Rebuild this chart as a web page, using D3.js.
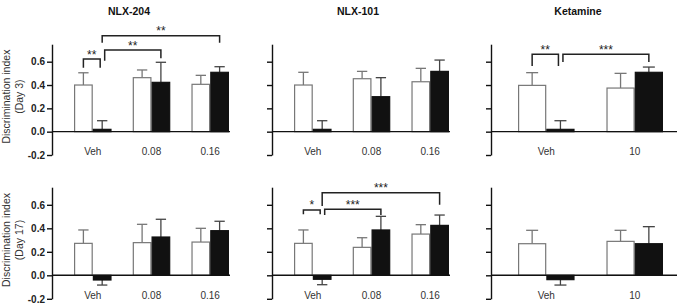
<!DOCTYPE html>
<html>
<head>
<meta charset="utf-8">
<script src="https://cdn.jsdelivr.net/npm/d3@7"></script>
<style>
  html, body { margin: 0; padding: 0; background: #fff; }
  svg { display: block; font-family: "Liberation Sans", Arial, sans-serif; }
</style>
</head>
<body>
<svg id="drawing_region"></svg>
<script>
// ---- data ----
const drugNames = ['NLX-204', 'NLX-101', 'Ketamine'];
const doseLabels = [['Veh', '0.08', '0.16'], ['Veh', '0.08', '0.16'], ['Veh', '10']];
const dayLabels = ['(Day 3)', '(Day 17)'];
const yTicks = [-0.2, 0.0, 0.2, 0.4, 0.6];
const series = ['white', 'black'];

// mean [drug][dose] = [white, black]
const day3Mean = [
    [[0.40, 0.02], [0.463, 0.423], [0.406, 0.509]],
    [[0.40, 0.02], [0.454, 0.30], [0.428, 0.517]],
    [[0.397, 0.02], [0.374, 0.509]]
];
const day3Sem = [
    [[0.105, 0.074], [0.066, 0.172], [0.077, 0.048]],
    [[0.109, 0.074], [0.063, 0.163], [0.115, 0.097]],
    [[0.109, 0.074], [0.126, 0.045]]
];
const day17Mean = [
    [[0.272, -0.040], [0.278, 0.326], [0.283, 0.380]],
    [[0.272, -0.034], [0.238, 0.386], [0.351, 0.425]],
    [[0.269, -0.037], [0.289, 0.269]]
];
const day17Sem = [
    [[0.114, 0.043], [0.156, 0.151], [0.117, 0.080]],
    [[0.114, 0.046], [0.082, 0.116], [0.080, 0.088]],
    [[0.114, 0.046], [0.094, 0.145]]
];

// significance brackets: row, drug, from [dose, series], to [dose, series], bar level, leg ends, label
const brackets = [
    {row: 0, drug: 0, from: ['Veh', 0], to: ['Veh', 1],  y: 0.623, legL: 0.548, legR: 0.548, label: '**'},
    {row: 0, drug: 0, from: ['Veh', 1], to: ['0.08', 1], y: 0.700, legL: 0.608, legR: 0.629, label: '**'},
    {row: 0, drug: 0, from: ['Veh', 1], to: ['0.16', 1], y: 0.823, legL: 0.763, legR: 0.763, label: '**'},
    {row: 0, drug: 2, from: ['Veh', 0], to: ['Veh', 1],  y: 0.663, legL: 0.563, legR: 0.563, label: '**'},
    {row: 0, drug: 2, from: ['Veh', 1], to: ['10', 1],   y: 0.663, legL: 0.597, legR: 0.597, label: '***'},
    {row: 1, drug: 1, from: ['Veh', 0], to: ['Veh', 1],  y: 0.556, legL: 0.519, legR: 0.519, label: '*'},
    {row: 1, drug: 1, from: ['Veh', 1], to: ['0.08', 1], y: 0.562, legL: 0.513, legR: 0.513, label: '***'},
    {row: 1, drug: 1, from: ['Veh', 1], to: ['0.16', 1], y: 0.703, legL: 0.590, legR: 0.600, label: '***'}
];

// ---- layout ----
const config = {
    width: 677,
    height: 306,
    axisX: [52, 272, 491],
    panelW: [178, 178, 186],
    bandRange: [[22, 177], [22, 177], [27, 172]],
    rowRange: [[155, 44.2], [298.8, 187.2]],
    yDomain: [-0.2, 0.75],
    titleX: [129, 358, 578],
    titleY: 15
};

const svg = d3.select('#drawing_region')
    .attr('width', config.width)
    .attr('height', config.height);

const means = [day3Mean, day17Mean];
const sems = [day3Sem, day17Sem];

// titles
svg.selectAll('.title')
    .data(drugNames)
    .join('text')
    .attr('class', 'title')
    .attr('x', (d, i) => config.titleX[i])
    .attr('y', config.titleY)
    .attr('text-anchor', 'middle')
    .style('font-size', '10.5px')
    .style('font-weight', 'bold')
    .style('fill', '#111')
    .text(d => d);

means.forEach((rowMean, r) => {
    const y = d3.scaleLinear().domain(config.yDomain).range(config.rowRange[r]);

    // y axis title
    const yc = (config.rowRange[r][0] + config.rowRange[r][1]) / 2 - 3;
    const ylab = svg.append('g')
        .attr('transform', `translate(0, ${yc}) rotate(-90)`)
        .style('font-size', '10.5px')
        .style('fill', '#333')
        .attr('text-anchor', 'middle');
    ylab.append('text').attr('x', 0).attr('y', 10).text('Discrimination index');
    ylab.append('text').attr('x', 0).attr('y', 23).text(dayLabels[r]);

    drugNames.forEach((drug, k) => {
        const ax = config.axisX[k];
        const g = svg.append('g').attr('transform', `translate(${ax}, 0)`);

        const x0 = d3.scaleBand()
            .domain(doseLabels[k])
            .range(config.bandRange[k])
            .paddingInner(0.36)
            .paddingOuter(0);
        const x1 = d3.scaleBand()
            .domain([0, 1])
            .range([0, x0.bandwidth()]);

        const rows = [];
        doseLabels[k].forEach((dose, j) => {
            series.forEach((s, si) => {
                rows.push({dose, si, mean: rowMean[k][j][si], sem: sems[r][k][j][si]});
            });
        });

        const bx = d => x0(d.dose) + x1(d.si);
        const cx = d => bx(d) + x1.bandwidth() / 2;
        const capW = Math.min(12, x1.bandwidth() * 0.55);

        // error bars
        const eb = g.selectAll('.err')
            .data(rows)
            .join('g')
            .attr('class', 'err')
            .style('stroke', d => d.si === 0 ? '#777' : '#444')
            .style('stroke-width', 1.3);
        eb.append('line')
            .attr('x1', cx).attr('x2', cx)
            .attr('y1', d => y(d.mean))
            .attr('y2', d => y(d.mean + Math.sign(d.mean) * d.sem));
        eb.append('line')
            .attr('x1', d => cx(d) - capW / 2).attr('x2', d => cx(d) + capW / 2)
            .attr('y1', d => y(d.mean + Math.sign(d.mean) * d.sem))
            .attr('y2', d => y(d.mean + Math.sign(d.mean) * d.sem));

        // bars
        g.selectAll('.bar')
            .data(rows)
            .join('rect')
            .attr('class', 'bar')
            .attr('x', d => bx(d) + 0.6)
            .attr('width', x1.bandwidth() - 1.2)
            .attr('y', d => y(Math.max(0, d.mean)))
            .attr('height', d => Math.abs(y(d.mean) - y(0)))
            .attr('fill', d => d.si === 0 ? '#fff' : '#111')
            .attr('stroke', d => d.si === 0 ? '#777' : '#111')
            .attr('stroke-width', 1.2);

        // zero line
        g.append('line')
            .attr('x1', 0).attr('x2', config.panelW[k])
            .attr('y1', y(0)).attr('y2', y(0))
            .attr('stroke', '#111')
            .attr('stroke-width', 1.4);

        // y axis
        const axis = d3.axisLeft(y)
            .tickValues(yTicks)
            .tickSize(5)
            .tickSizeOuter(0)
            .tickPadding(2)
            .tickFormat(k === 0 ? (d => d.toFixed(1)) : '');
        const ag = g.append('g').call(axis);
        ag.select('.domain').attr('stroke', '#111').attr('stroke-width', 1.4);
        ag.selectAll('.tick line').attr('stroke', '#111').attr('stroke-width', 1.4);
        ag.selectAll('.tick text')
            .style('font-family', '"Liberation Sans", Arial, sans-serif')
            .style('font-size', '10px')
            .style('font-weight', 'bold')
            .style('fill', '#222');

        // category labels
        g.selectAll('.cat')
            .data(doseLabels[k])
            .join('text')
            .attr('class', 'cat')
            .attr('x', d => x0(d) + x0.bandwidth() / 2)
            .attr('y', y(-0.2))
            .attr('text-anchor', 'middle')
            .style('font-size', '10px')
            .style('fill', '#333')
            .text(d => d);

        // brackets
        const bs = brackets.filter(b => b.row === r && b.drug === k);
        const topY = d3.max(bs, b => b.y);
        const endX = (dose, si) => x0(dose) + x1(si) + x1.bandwidth() / 2;
        bs.forEach(b => {
            const same = b.from[0] === b.to[0];
            let xl = endX(b.from[0], b.from[1]);
            let xr = endX(b.to[0], b.to[1]);
            if (same) xr -= 2;
            else if (b.y < topY || bs.length === 2) xl += 2.5;
            g.append('path')
                .attr('d', `M${xl},${y(b.legL)}V${y(b.y)}H${xr}V${y(b.legR)}`)
                .attr('fill', 'none')
                .attr('stroke', '#222')
                .attr('stroke-width', 1.5);
            g.append('text')
                .attr('x', (xl + xr) / 2)
                .attr('y', y(b.y) - 0.5)
                .attr('text-anchor', 'middle')
                .style('font-size', '12px')
                .style('fill', '#222')
                .text(b.label);
        });
    });
});
</script>
</body>
</html>
